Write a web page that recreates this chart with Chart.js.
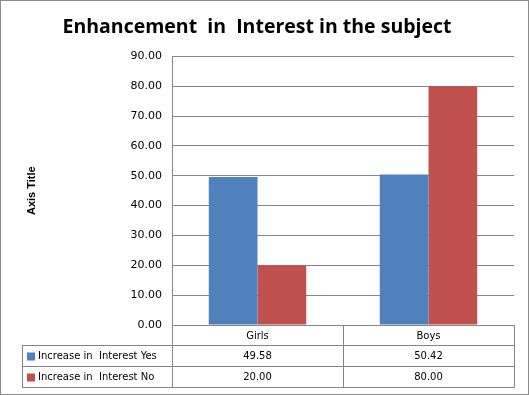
<!DOCTYPE html>
<html>
<head>
<meta charset="utf-8">
<script src="https://cdn.jsdelivr.net/npm/chart.js@4"></script>
<style>
  html, body { margin: 0; padding: 0; background: #fff; }
  canvas { display: block; }
</style>
</head>
<body>
<canvas id="chart" width="529" height="395"></canvas>
<script>
const categories = ['Girls', 'Boys'];
const yesLabel = 'Increase in  Interest Yes';
const noLabel = 'Increase in  Interest No';
const yesValues = [49.58, 50.42];
const noValues = [20.00, 80.00];
const yTicksMax = 90;
const yTicksStep = 10;

const blue = '#4F81BD';
const red = '#C0504D';
const lineGray = '#868686';
const tickFont = "'DejaVu Sans', Verdana, sans-serif";

// frame + white background
const framePlugin = {
  id: 'frame',
  beforeDraw(chart) {
    const c = chart.ctx;
    c.save();
    c.fillStyle = '#fff';
    c.fillRect(0, 0, chart.width, chart.height);
    c.strokeStyle = '#8c8c8c';
    c.lineWidth = 1;
    c.strokeRect(0.5, 0.5, chart.width - 1, chart.height - 1);
    c.restore();
  }
};

// Excel style data table under the plot
const dataTable = {
  id: 'dataTable',
  afterDraw(chart) {
    const c = chart.ctx;
    const area = chart.chartArea;
    const x = chart.scales.x;
    const rowEdges = [0, 20, 41, 62]; // offsets below the axis line
    const tableLeft = 22;
    const top = area.bottom;
    const rows = [
      { label: yesLabel, color: blue, values: yesValues },
      { label: noLabel, color: red, values: noValues }
    ];
    const bottom = Math.round(top + rowEdges[3]) + 0.5;
    const half = (x.getPixelForValue(1) - x.getPixelForValue(0)) / 2;

    c.save();
    c.strokeStyle = lineGray;
    c.lineWidth = 1;
    c.beginPath();
    for (let r = 1; r < rowEdges.length; r++) {
      const y = Math.round(top + rowEdges[r]) + 0.5;
      c.moveTo(tableLeft, y);
      c.lineTo(Math.round(area.right) + 0.5, y);
    }
    c.moveTo(tableLeft + 0.5, top + rowEdges[1]);
    c.lineTo(tableLeft + 0.5, bottom);
    const vx = [area.left];
    categories.forEach((_, i) => vx.push(x.getPixelForValue(i) + half));
    vx.forEach(v => {
      const px = Math.round(v) + 0.5;
      c.moveTo(px, top);
      c.lineTo(px, bottom);
    });
    c.stroke();

    c.font = '10px ' + tickFont;
    c.fillStyle = '#000';
    c.textAlign = 'center';
    c.textBaseline = 'middle';
    categories.forEach((cat, i) => {
      c.fillText(cat, x.getPixelForValue(i), top + rowEdges[1] / 2 + 1);
    });
    rows.forEach((row, r) => {
      const cy = top + (rowEdges[r + 1] + rowEdges[r + 2]) / 2 + 1;
      c.fillStyle = row.color;
      c.fillRect(tableLeft + 5, cy - 4, 8, 8);
      c.fillStyle = '#000';
      c.textAlign = 'left';
      c.fillText(row.label, tableLeft + 16, cy);
      c.textAlign = 'center';
      row.values.forEach((v, i) => {
        c.fillText(v.toFixed(2), x.getPixelForValue(i), cy);
      });
    });
    c.restore();
  }
};

const ctx = document.getElementById('chart').getContext('2d');

const chart = new Chart(ctx, {
  type: 'bar',
  data: {
    labels: categories,
    datasets: [
      {
        label: yesLabel,
        data: yesValues,
        backgroundColor: blue,
        borderWidth: 0,
        barPercentage: 1.0,
        categoryPercentage: 0.57
      },
      {
        label: noLabel,
        data: noValues,
        backgroundColor: red,
        borderWidth: 0,
        barPercentage: 1.0,
        categoryPercentage: 0.57
      }
    ]
  },
  options: {
    responsive: false,
    animation: false,
    layout: { padding: { left: 0, right: 15, top: 0, bottom: 70 } },
    plugins: {
      legend: { display: false },
      tooltip: { enabled: false },
      title: {
        display: true,
        text: 'Enhancement  in  Interest in the subject',
        color: '#000',
        font: { family: "'Open Sans', sans-serif", size: 19.5, weight: 'bold' },
        padding: { top: 16, bottom: 17 }
      }
    },
    scales: {
      x: {
        ticks: { display: false },
        grid: { display: false },
        border: { color: lineGray },
        afterFit: s => { s.height = 0; }
      },
      y: {
        min: 0,
        max: yTicksMax,
        ticks: {
          stepSize: yTicksStep,
          color: '#000',
          padding: 10,
          font: { family: tickFont, size: 11 },
          callback: v => Number(v).toFixed(2)
        },
        grid: { color: lineGray, drawTicks: false },
        border: { color: lineGray },
        title: {
          display: true,
          text: 'Axis Title',
          color: '#000',
          font: { family: "'Liberation Sans', Arial, sans-serif", size: 11, weight: 'bold' },
          padding: { top: 25, bottom: 0 }
        },
        afterFit: s => { s.width = 172; }
      }
    }
  },
  plugins: [framePlugin, dataTable]
});
</script>
</body>
</html>
